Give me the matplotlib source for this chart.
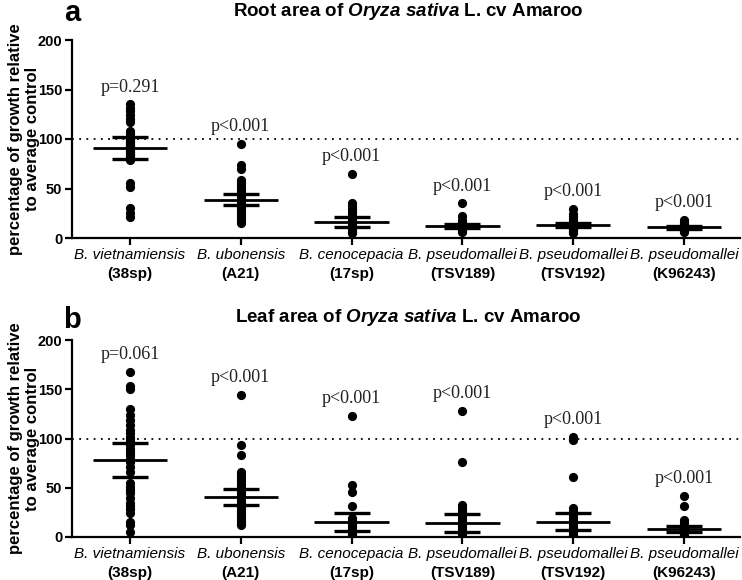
import matplotlib
matplotlib.use("Agg")
import matplotlib.pyplot as plt
import numpy as np

plt.rcParams['font.family'] = ['Liberation Sans', 'DejaVu Sans']
plt.rcParams['mathtext.fontset'] = 'custom'
plt.rcParams['mathtext.it'] = 'Liberation Sans:italic:bold'
plt.rcParams['mathtext.rm'] = 'Liberation Sans:bold'

species = ["B. vietnamiensis", "B. ubonensis", "B. cenocepacia",
           "B. pseudomallei", "B. pseudomallei", "B. pseudomallei"]
strains = ["(38sp)", "(A21)", "(17sp)", "(TSV189)", "(TSV192)", "(K96243)"]

# Panel a: root area
root_points = [
    [135, 131, 128, 124, 120, 117, 108, 106, 103, 101, 100, 99, 98, 97, 96, 95, 94, 93,
     92, 91, 90, 89, 88, 87, 86, 85, 84, 83, 82, 80, 79, 56, 52, 30, 25, 21],
    [95, 74, 70, 59, 56, 53, 50, 47, 45, 43, 41, 39, 37, 35, 33, 31, 29, 27, 25, 23, 21, 19, 17, 15],
    [65, 35, 32, 30, 28, 25, 22, 20, 18, 16, 14, 12, 10, 8, 6, 5],
    [35, 22, 18, 16, 15, 14, 13, 12, 11, 10, 9, 8, 7, 6],
    [29, 24, 22, 20, 18, 16, 15, 14, 13, 12, 11, 10, 9, 8, 7, 6, 5],
    [18, 16, 14, 13, 12, 11, 10, 9, 8, 7, 6],
]
root_mean = [91, 38.5, 16, 12, 13, 10.8]
root_low = [80, 33, 11, 10, 11, 9.5]
root_high = [102, 44.5, 21.5, 14, 15, 12]
root_p = ["p=0.291", "p<0.001", "p<0.001", "p<0.001", "p<0.001", "p<0.001"]

# Panel b: leaf area
leaf_points = [
    [168, 153, 150, 130, 124, 119, 114, 109, 106, 102, 99, 96, 93, 89, 86, 83, 79, 76, 71,
     66, 55, 51, 48, 45, 40, 35, 31, 28, 24, 15, 12, 5],
    [144, 93, 83, 66, 63, 60, 57, 54, 52, 50, 48, 46, 44, 42, 40, 38, 36, 34, 32, 30, 28,
     26, 24, 22, 20, 18, 16, 14, 12],
    [123, 53, 46, 31, 19, 17, 15, 13, 11, 9, 7, 5, 3, 2],
    [128, 76, 32, 29, 27, 25, 22, 20, 18, 16, 14, 12, 10, 8, 6, 4, 3],
    [102, 100, 98, 61, 29, 26, 23, 20, 17, 15, 13, 11, 9, 7, 5, 3, 2],
    [42, 31, 17, 15, 13, 11, 10, 9, 8, 7, 6, 5, 4, 3, 2],
]
leaf_mean = [78, 41, 15, 14.5, 15.6, 7.8]
leaf_low = [61, 32.5, 6.4, 5.4, 7, 5.4]
leaf_high = [95, 48.7, 24, 23.4, 24, 11]
leaf_p = ["p=0.061", "p<0.001", "p<0.001", "p<0.001", "p<0.001", "p<0.001"]

yticks = [0, 50, 100, 150, 200]

fig = plt.figure(figsize=(7.42, 5.8), dpi=100)
W, H = 742, 580
ax_a = fig.add_axes([72 / W, 1 - 238 / H, 668 / W, 198 / H])
ax_b = fig.add_axes([72 / W, 1 - 537 / H, 668 / W, 197 / H])


def draw(ax, pts, mean, low, high, pvals, letter, title_pre, letter_y, title_y):
    n = len(pts)
    for i in range(n):
        ax.plot([i] * len(pts[i]), pts[i], 'o', color='black', ms=5.6, zorder=3)
        ax.plot([i - 0.335, i + 0.335], [mean[i], mean[i]], color='black', lw=2.0,
                solid_capstyle='butt', zorder=4)
        ax.plot([i - 0.163, i + 0.163], [low[i], low[i]], color='black', lw=2.4,
                solid_capstyle='butt', zorder=4)
        ax.plot([i - 0.163, i + 0.163], [high[i], high[i]], color='black', lw=2.4,
                solid_capstyle='butt', zorder=4)
        ax.plot([i, i], [low[i], high[i]], color='black', lw=2.0, zorder=4)
        ax.text(i, max(pts[i]) + 17.5, pvals[i], ha='center', va='center',
                family=['Liberation Serif'], fontsize=13, color='#222222')
        ax.annotate(species[i], xy=(i, 0), xycoords=('data', 'axes fraction'),
                    xytext=(0, -12.5), textcoords='offset points', ha='center', va='center',
                    style='italic', fontsize=11)
        ax.annotate(strains[i], xy=(i, 0), xycoords=('data', 'axes fraction'),
                    xytext=(0, -26), textcoords='offset points', ha='center', va='center',
                    fontweight='bold', fontsize=11)
    ax.axhline(100, color='black', lw=1.3, ls=(0, (1, 3)), zorder=2)
    ax.set_xlim(-0.523, 5.505)
    ax.set_ylim(0, 200)
    ax.set_yticks(yticks)
    ax.set_yticklabels([str(t) for t in yticks], fontweight='bold', fontsize=10.5)
    ax.set_xticks(range(n))
    ax.set_xticklabels([''] * n)
    for s in ['top', 'right']:
        ax.spines[s].set_visible(False)
    for s in ['left', 'bottom']:
        ax.spines[s].set_linewidth(1.6)
    ax.tick_params(axis='both', width=1.6, length=5, direction='out', pad=2)
    ax.set_ylabel("percentage of growth relative\nto average control", fontweight='bold',
                  fontsize=12, linespacing=1.15, va='center')
    ax.yaxis.set_label_coords(-48 / 668, 0.5)
    fig.text(72 / W, 1 - letter_y / H, letter, fontsize=21, fontweight='bold',
             ha='center', va='center')
    fig.text(408 / W, 1 - title_y / H,
             title_pre + r" of $\mathit{Oryza\ sativa}$ L. cv Amaroo",
             fontsize=13.5, fontweight='bold', ha='center', va='center')


draw(ax_a, root_points, root_mean, root_low, root_high, root_p, 'a', 'Root area', 13, 11)
draw(ax_b, leaf_points, leaf_mean, leaf_low, leaf_high, leaf_p, 'b', 'Leaf area', 320, 318)

fig.savefig("out.png", dpi=100)
